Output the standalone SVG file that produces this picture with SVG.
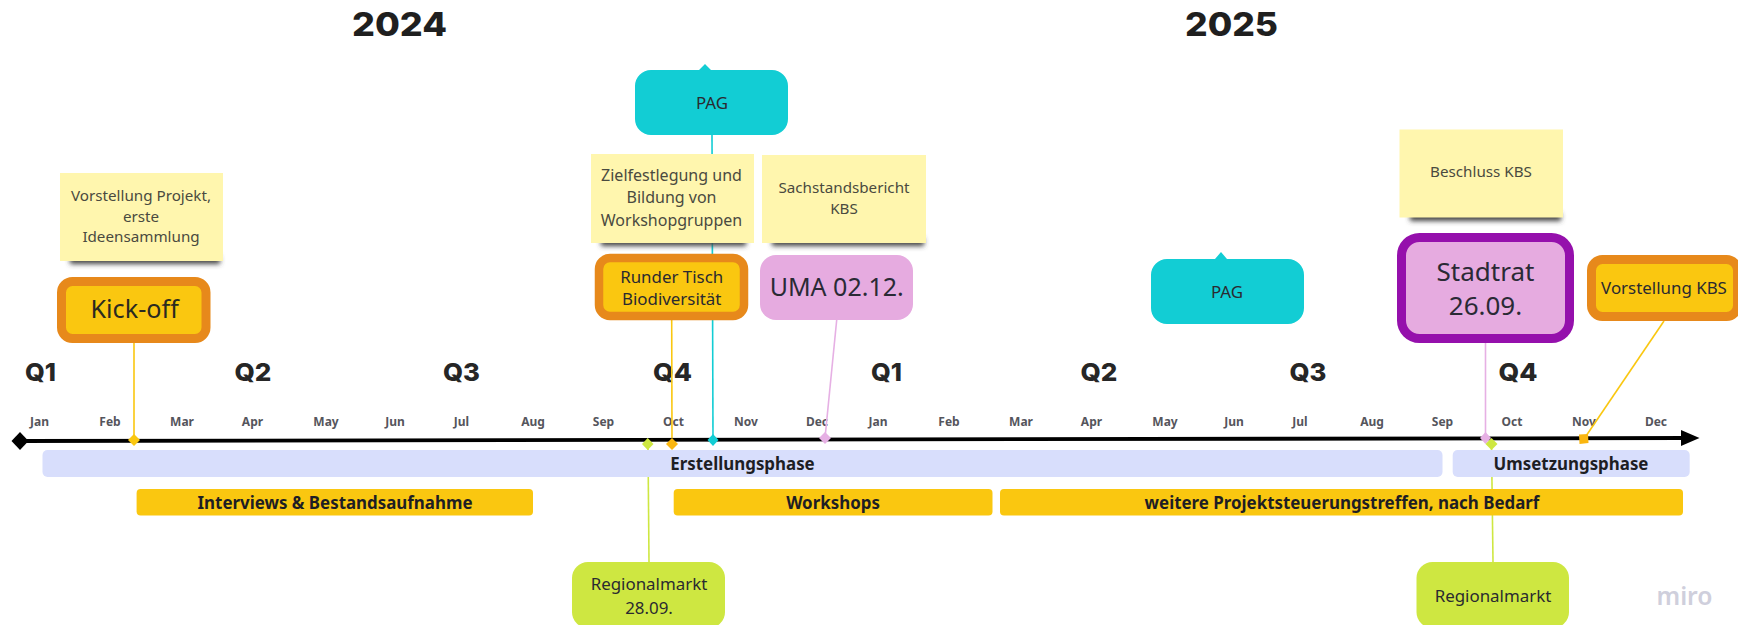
<svg xmlns="http://www.w3.org/2000/svg" width="1738" height="625" viewBox="0 0 1738 625">
<style>
text{font-family:"Noto Sans","Open Sans","DejaVu Sans",sans-serif;text-anchor:middle}
.yr{font-family:Inter,"Liberation Sans",sans-serif;font-weight:800;font-size:33px;fill:#1f1f1f}
.q{font-family:Inter,"Liberation Sans",sans-serif;font-weight:800;font-size:25px;fill:#262626}
.m{font-weight:700;font-size:12px;fill:#55555c}
.b{font-weight:700;font-size:16.900px;fill:#1e1e24}
.s{font-size:15.200px;fill:#4a4a40}
.t16{font-size:16.900px;fill:#2a2a30}
.st{fill:#fff6ae}
.sh{fill:#444;filter:url(#blur)}
.c{fill:none;stroke-width:1.6}
.bar{fill:#d8defc}
.y{fill:#fac710}
</style>
<defs><filter id="blur" x="-10%" y="-150%" width="120%" height="400%"><feGaussianBlur stdDeviation="2.800"/></filter></defs>

<g id="titles">
<text class="yr" x="399.500" y="36" textLength="95" lengthAdjust="spacingAndGlyphs">2024</text>
<text class="yr" x="1231.500" y="36" textLength="93" lengthAdjust="spacingAndGlyphs">2025</text>
</g>
<g id="quarters">
<text class="q" x="40.500" y="381" textLength="31" lengthAdjust="spacingAndGlyphs">Q1</text>
<text class="q" x="253" y="381" textLength="37" lengthAdjust="spacingAndGlyphs">Q2</text>
<text class="q" x="461.500" y="381" textLength="37" lengthAdjust="spacingAndGlyphs">Q3</text>
<text class="q" x="672.500" y="381" textLength="39" lengthAdjust="spacingAndGlyphs">Q4</text>
<text class="q" x="886.500" y="381" textLength="31" lengthAdjust="spacingAndGlyphs">Q1</text>
<text class="q" x="1099" y="381" textLength="37" lengthAdjust="spacingAndGlyphs">Q2</text>
<text class="q" x="1308" y="381" textLength="37" lengthAdjust="spacingAndGlyphs">Q3</text>
<text class="q" x="1518" y="381" textLength="39" lengthAdjust="spacingAndGlyphs">Q4</text>
</g>
<g id="months">
<text class="m" x="39.500" y="426">Jan</text><text class="m" x="110" y="426">Feb</text><text class="m" x="182" y="426">Mar</text><text class="m" x="252.500" y="426">Apr</text><text class="m" x="326" y="426">May</text><text class="m" x="395" y="426">Jun</text><text class="m" x="461.500" y="426">Jul</text><text class="m" x="533" y="426">Aug</text><text class="m" x="603.500" y="426">Sep</text><text class="m" x="673.500" y="426">Oct</text><text class="m" x="746" y="426">Nov</text><text class="m" x="817" y="426">Dec</text><text class="m" x="878" y="426">Jan</text><text class="m" x="949" y="426">Feb</text><text class="m" x="1021" y="426">Mar</text><text class="m" x="1091.500" y="426">Apr</text><text class="m" x="1165" y="426">May</text><text class="m" x="1234" y="426">Jun</text><text class="m" x="1300" y="426">Jul</text><text class="m" x="1372" y="426">Aug</text><text class="m" x="1442.500" y="426">Sep</text><text class="m" x="1512" y="426">Oct</text><text class="m" x="1584" y="426">Nov</text><text class="m" x="1656" y="426">Dec</text>
</g>

<g id="connectors">
<line class="c" x1="134" y1="343" x2="134" y2="440" stroke="#fac710"/>
<line class="c" x1="671.700" y1="320" x2="672" y2="444" stroke="#fac710"/>
<line class="c" x1="712" y1="135" x2="713" y2="440" stroke="#12cdd4"/>
<line class="c" x1="836.700" y1="320" x2="825" y2="438" stroke="#e6b0e4"/>
<line class="c" x1="1485.500" y1="343" x2="1485.500" y2="438" stroke="#e6b0e4"/>
<line class="c" x1="1664" y1="321" x2="1584" y2="439" stroke="#fac710"/>
<line class="c" x1="648" y1="444" x2="649" y2="562" stroke="#cee741"/>
<line class="c" x1="1491.500" y1="444" x2="1493" y2="562" stroke="#cee741"/>
<path d="M20 441L1684 438" fill="none" stroke="#000" stroke-width="3.800"/>
<path d="M1681 430L1699.500 438L1681 446Z" fill="#000"/>
<path d="M20 432L28.500 441L20 450L11.500 441Z" fill="#000"/>
<path d="M134 434L140 440L134 446L128 440Z" fill="#fac710"/>
<path d="M647.700 438L653.500 444L647.700 450L642 444Z" fill="#cee741"/>
<path d="M672 438L678 444L672 450L666 444Z" fill="#fab60f"/>
<path d="M713 434L718.500 440L713 446L707.500 440Z" fill="#12cdd4"/>
<path d="M825 432L831 438L825 444L819 438Z" fill="#e6b0e4"/>
<path d="M1485.500 432L1491 438L1485.500 444L1480 438Z" fill="#e6b0e4"/>
<path d="M1491.500 438L1497.500 444L1491.500 450L1485.500 444Z" fill="#cee741"/>
<path d="M1579 434.500L1588 434L1588.500 443L1579.500 444Z" fill="#fab60f"/>
</g>

<g id="phase-erstellung"><rect class="bar" x="42.500" y="450" width="1400" height="27" rx="5"/><text class="b" x="742.500" y="470">Erstellungsphase</text></g>
<g id="phase-umsetzung"><rect class="bar" x="1452.700" y="450" width="237" height="27" rx="5"/><text class="b" x="1571" y="470">Umsetzungsphase</text></g>
<g id="bar-interviews"><rect class="y" x="136.600" y="489" width="396.400" height="26.500" rx="4"/><text class="b" x="335" y="509">Interviews &amp; Bestandsaufnahme</text></g>
<g id="bar-workshops"><rect class="y" x="673.700" y="489" width="318.800" height="26.500" rx="4"/><text class="b" x="833" y="509">Workshops</text></g>
<g id="bar-weitere"><rect class="y" x="1000" y="489" width="683" height="26.500" rx="4"/><text class="b" x="1342" y="509">weitere Projektsteuerungstreffen, nach Bedarf</text></g>

<g id="note-vorstellung"><rect class="sh" x="70" y="256" width="150" height="8"/><rect class="st" x="60" y="173" width="163" height="88"/><text class="s" x="141" y="201">Vorstellung Projekt,</text><text class="s" x="141" y="222">erste</text><text class="s" x="141" y="242">Ideensammlung</text></g>
<g id="node-kickoff"><rect x="61.500" y="281.500" width="144.500" height="57" rx="11" fill="#fac710" stroke="#e7891b" stroke-width="9"/><text x="134.700" y="318" style="font-size:25.200px;fill:#2a2a20">Kick-off</text></g>
<g id="node-pag1"><path d="M651 70H699L705 64L711 70H772A16 16 0 0 1 788 86V119A16 16 0 0 1 772 135H651A16 16 0 0 1 635 119V86A16 16 0 0 1 651 70Z" fill="#12cdd4"/><text class="t16" x="712" y="109">PAG</text></g>
<g id="note-ziel"><rect class="sh" x="601" y="238" width="145" height="8"/><rect class="st" x="591" y="154" width="163" height="89"/><text style="font-size:16px;fill:#4a4a40" x="671.500" y="180.500">Zielfestlegung und</text><text style="font-size:16px;fill:#4a4a40" x="671.500" y="203">Bildung von</text><text style="font-size:16px;fill:#4a4a40" x="671.500" y="225.500">Workshopgruppen</text></g>
<g id="note-sachstand"><rect class="sh" x="772" y="238" width="152" height="8"/><rect class="st" x="762" y="155" width="164" height="88"/><text class="s" x="844" y="192.500">Sachstandsbericht</text><text class="s" x="844" y="213.500">KBS</text></g>
<g id="node-runder"><rect x="599" y="258" width="145" height="58" rx="11" fill="#fac710" stroke="#e7891b" stroke-width="8.500"/><text class="t16" x="671.700" y="282.500">Runder Tisch</text><text class="t16" x="671.700" y="305">Biodiversität</text></g>
<g id="node-uma"><rect x="760" y="255" width="153" height="65" rx="16" fill="#e6abe0"/><text x="836.700" y="296" style="font-size:25px;fill:#2a2a35">UMA 02.12.</text></g>
<g id="node-pag2"><path d="M1167 259H1215L1221 252L1227 259H1288A16 16 0 0 1 1304 275V308A16 16 0 0 1 1288 324H1167A16 16 0 0 1 1151 308V275A16 16 0 0 1 1167 259Z" fill="#12cdd4"/><text class="t16" x="1227" y="297.500">PAG</text></g>
<g id="note-beschluss"><rect class="sh" x="1410" y="213" width="151" height="8"/><rect class="st" x="1399.500" y="129.500" width="163.500" height="88"/><text class="s" x="1481" y="177">Beschluss KBS</text></g>
<g id="node-stadtrat"><rect x="1401.500" y="237.500" width="168" height="101" rx="18" fill="#e6abe0" stroke="#9510ac" stroke-width="9"/><text x="1485.500" y="281" style="font-size:26px;fill:#2a2a35">Stadtrat</text><text x="1485.500" y="315" style="font-size:26px;fill:#2a2a35">26.09.</text></g>
<g id="node-vorstellung-kbs"><rect x="1591.500" y="259.500" width="146" height="57" rx="11" fill="#fac710" stroke="#e7891b" stroke-width="9"/><text class="t16" x="1664" y="293.500">Vorstellung KBS</text></g>
<g id="node-regional1"><rect x="572" y="562" width="153" height="66" rx="16" fill="#cee741"/><text class="t16" x="649" y="590">Regionalmarkt</text><text class="t16" x="649" y="613.500">28.09.</text></g>
<g id="node-regional2"><rect x="1416.500" y="562" width="152.500" height="66" rx="16" fill="#cee741"/><text class="t16" x="1493" y="601.500">Regionalmarkt</text></g>
<text x="1684.500" y="605" style="font-weight:600;font-size:26px;fill:#cfcfdc" textLength="56" lengthAdjust="spacingAndGlyphs">miro</text>
</svg>
